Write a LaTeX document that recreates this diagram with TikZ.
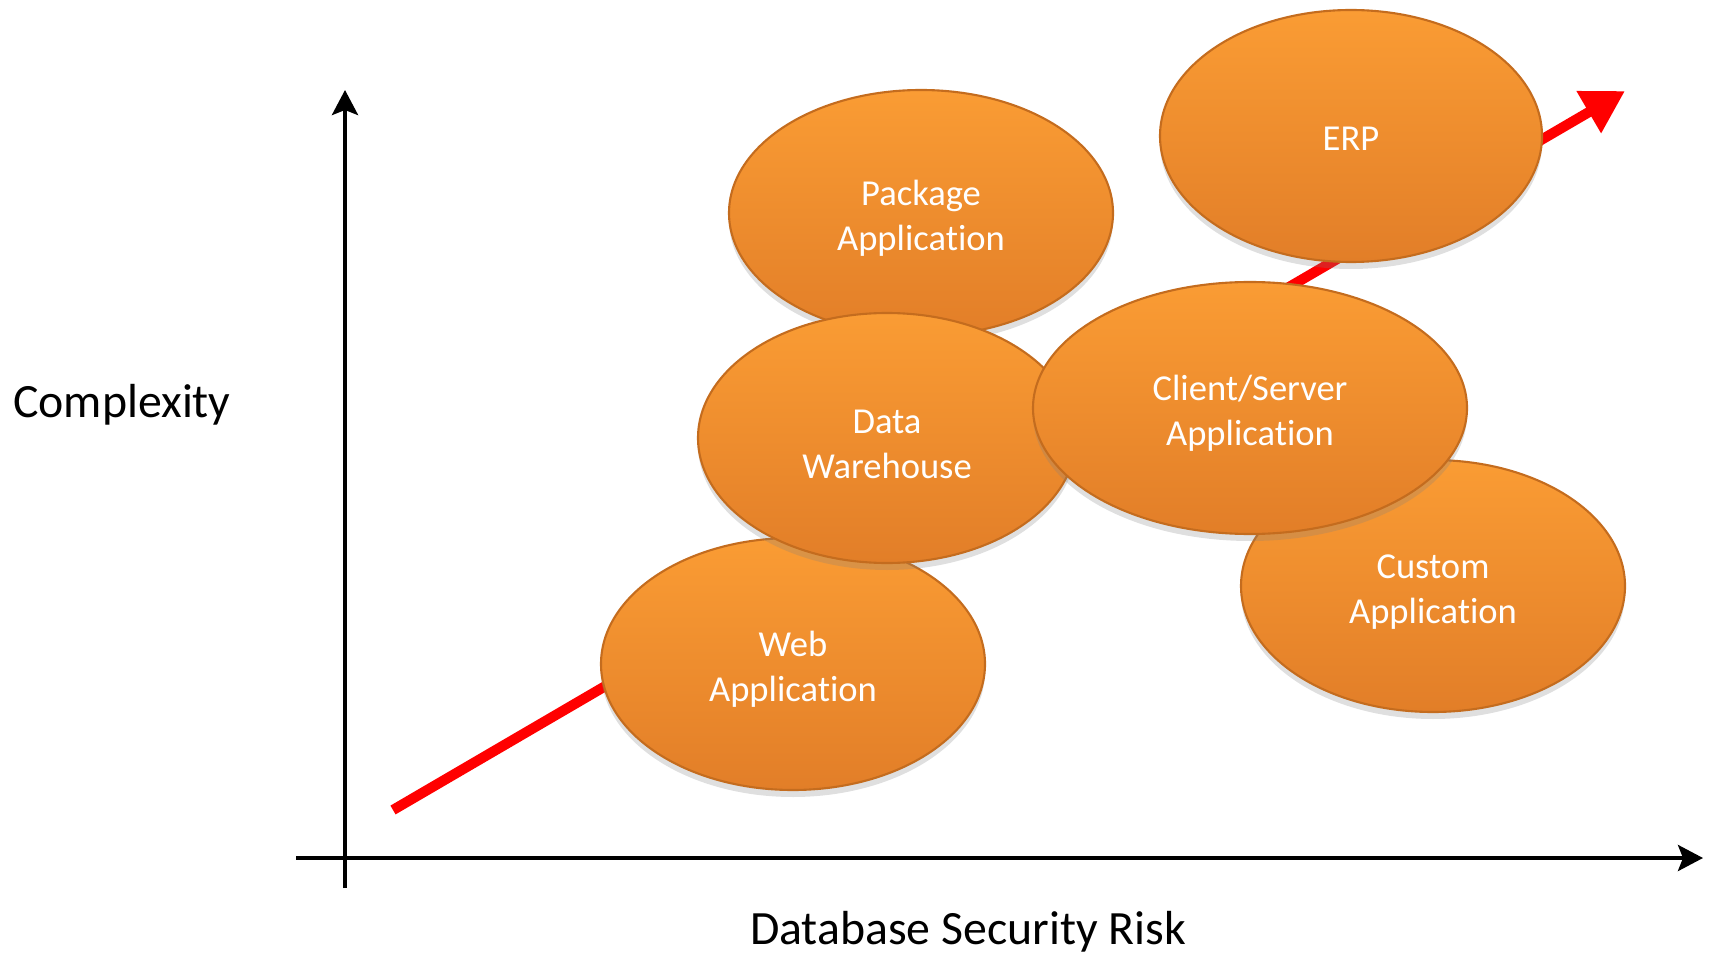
\documentclass[tikz,border=0pt]{standalone}
\usepackage{fontspec}
\setmainfont{Carlito}[Ligatures={CommonOff,ContextualOff,RequiredOff}]
\usetikzlibrary{shapes.geometric,shadows,arrows.meta}

\definecolor{orangetop}{RGB}{250,156,52}
\definecolor{orangebot}{RGB}{226,126,40}
\definecolor{orangeedge}{RGB}{196,108,30}

\tikzset{
  app/.style={ellipse, draw=orangeedge, line width=0.6pt,
    top color=orangetop, bottom color=orangebot,
    drop shadow={opacity=0.25, shadow xshift=0cm, shadow yshift=-0.07cm},
    text=white, align=center, inner sep=0pt, text height=0.81cm,
    font=\fontsize{10.4}{12.7}\selectfont},
  axis/.style={line width=1.15pt, -{Stealth[length=0.25cm,width=0.26cm,inset=0.05cm]}},
  axislabel/.style={font=\fontsize{13.6}{16.6}\selectfont}
}

\begin{document}
\begin{tikzpicture}
  \useasboundingbox (0,0) rectangle (17.09,9.52);

  % Axes
  \coordinate (ybot) at (3.45,0.64);
  \coordinate (ytop) at (3.45,8.62);
  \coordinate (xleft) at (2.96,0.94);
  \coordinate (xright) at (17.03,0.94);
  \draw[axis] (ybot) -- (ytop);
  \draw[axis] (xleft) -- (xright);

  \node[axislabel] (complexity) at (1.22,5.47) {Complexity};
  \node[axislabel] (risk) at (9.68,0.20) {Database Security Risk};

  % Trend arrow (behind the ellipses)
  \coordinate (trendstart) at (3.93,1.42);
  \coordinate (trendend) at (16.25,8.61);
  \draw[red, line width=2.9pt, -{Triangle[length=0.42cm,width=0.46cm]}]
    (trendstart) -- (trendend);

  % Applications
  \node[app, minimum width=3.84cm, minimum height=2.46cm] (package) at (9.21,7.39) {Package\\Application};
  \node[app, minimum width=3.82cm, minimum height=2.52cm, text height=0.30cm] (erp) at (13.51,8.16) {ERP};
  \node[app, minimum width=3.84cm, minimum height=2.52cm] (web) at (7.93,2.88) {Web\\Application};
  \node[app, minimum width=3.78cm, minimum height=2.50cm] (warehouse) at (8.87,5.14) {Data\\Warehouse};
  \node[app, minimum width=3.84cm, minimum height=2.52cm] (custom) at (14.33,3.66) {Custom\\Application};
  \node[app, minimum width=4.34cm, minimum height=2.52cm] (clientserver) at (12.50,5.44) {Client/Server\\Application};
\end{tikzpicture}
\end{document}
